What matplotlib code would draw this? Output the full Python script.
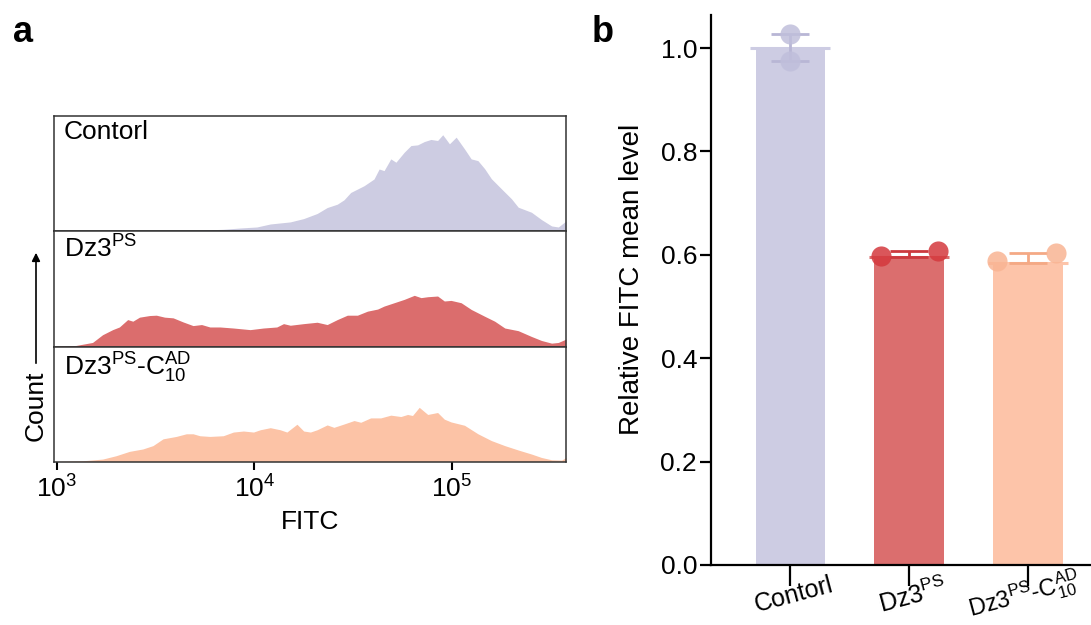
import numpy as np
import matplotlib
matplotlib.use('Agg')
import matplotlib.pyplot as plt
import matplotlib.transforms as mtransforms
from matplotlib.patches import FancyArrowPatch

plt.rcParams['font.family'] = ['Liberation Sans', 'DejaVu Sans']
plt.rcParams['mathtext.default'] = 'regular'
plt.rcParams['font.size'] = 19

# ---- panel a: flow histograms (x in log10 FITC, height in % of panel) ----
ctrl_x = [2.986, 3.639, 3.724, 3.843, 3.928, 4.013, 4.081, 4.182, 4.250, 4.318,
          4.369, 4.420, 4.454, 4.488, 4.556, 4.606, 4.632, 4.657, 4.691, 4.717,
          4.759, 4.793, 4.827, 4.861, 4.894, 4.928, 4.954, 4.988, 5.022, 5.064,
          5.098, 5.132, 5.166, 5.200, 5.251, 5.302, 5.336, 5.403, 5.454, 5.505,
          5.539, 5.578]
ctrl_h = [0, 0, 0.6, 1.5, 2.6, 3.5, 6.1, 7.9, 10.8, 15.2,
          20.4, 23.3, 27.1, 33.5, 39.4, 45.2, 53.9, 52.5, 62.7, 59.8,
          68.5, 74.3, 74.9, 77.8, 79.6, 78.7, 83.7, 75.8, 81.6, 71.4,
          62.7, 61.2, 54.2, 45.5, 36.7, 28.0, 20.7, 16.3, 9.9, 4.4,
          3.5, 8.7]

ps_x = [2.986, 3.097, 3.181, 3.232, 3.283, 3.317, 3.359, 3.385, 3.419, 3.470,
        3.504, 3.546, 3.589, 3.639, 3.690, 3.733, 3.775, 3.826, 3.894, 3.979,
        4.046, 4.114, 4.148, 4.182, 4.250, 4.318, 4.369, 4.420, 4.471, 4.522,
        4.573, 4.624, 4.657, 4.708, 4.759, 4.810, 4.844, 4.878, 4.928, 4.962,
        4.996, 5.047, 5.098, 5.166, 5.217, 5.268, 5.336, 5.403, 5.454, 5.505,
        5.539, 5.578]
ps_h = [0, 0.9, 3.5, 10.2, 14.6, 16.9, 23.3, 21.9, 25.4, 26.8,
        27.1, 25.4, 24.8, 21.3, 18.1, 19.0, 16.9, 16.9, 16.0, 14.6,
        16.0, 16.9, 19.8, 18.4, 19.8, 21.0, 19.0, 23.3, 27.1, 27.1,
        30.6, 32.4, 35.0, 37.9, 40.8, 44.3, 42.3, 43.1, 43.7, 39.4,
        39.9, 37.9, 32.1, 26.2, 21.9, 16.0, 13.7, 8.7, 5.2, 2.9,
        3.5, 6.4]

ad_x = [2.986, 3.130, 3.232, 3.300, 3.368, 3.436, 3.487, 3.538, 3.605, 3.656,
        3.690, 3.724, 3.775, 3.843, 3.894, 3.945, 3.996, 4.030, 4.081, 4.131,
        4.165, 4.216, 4.250, 4.284, 4.318, 4.369, 4.403, 4.454, 4.505, 4.539,
        4.589, 4.640, 4.691, 4.742, 4.776, 4.801, 4.835, 4.878, 4.928, 4.962,
        4.996, 5.064, 5.132, 5.200, 5.268, 5.336, 5.403, 5.454, 5.505, 5.556,
        5.578]
ad_h = [0, 0.6, 2.1, 5.0, 8.8, 10.9, 13.8, 19.7, 21.8, 24.1,
        24.1, 22.4, 21.8, 22.4, 25.6, 26.5, 25.6, 27.6, 29.4, 27.6,
        25.6, 32.4, 26.5, 25.6, 27.6, 31.8, 29.7, 32.6, 35.6, 34.1,
        37.9, 37.9, 40.3, 39.1, 40.9, 40.0, 47.1, 40.9, 42.6, 36.8,
        34.4, 31.5, 24.1, 18.2, 13.8, 10.0, 6.5, 3.5, 1.5, 1.2,
        3.5]

# ---- panel b: bars ----
groups = ['Contorl', r'Dz3$^{PS}$', r'Dz3$^{PS}$-C$_{10}^{AD}$']
means = [1.0, 0.596, 0.585]
err_low = [0.975, 0.596, 0.585]
err_high = [1.028, 0.608, 0.604]
points = [[1.028, 0.975], [0.597, 0.608], [0.589, 0.604]]
jitter = [[0.0, 0.0], [-0.24, 0.245], [-0.26, 0.235]]

hist_colors = ['#cdcce2', '#db6d6d', '#fcc3a6']
bar_colors = ['#cdcce3', '#db6e6e', '#fdc4a9']
dot_colors = ['#c0bfdb', '#d4383d', '#f9b493']
err_colors = ['#b8b6d5', '#cc3a3e', '#f4a985']

fig = plt.figure(figsize=(10.91, 6.25), dpi=100)

left, width = 54 / 1091, 512 / 1091
bottoms = [0.6304, 0.4456, 0.2616]
heights = [0.184, 0.1848, 0.184]
hist_data = [(ctrl_x, ctrl_h), (ps_x, ps_h), (ad_x, ad_h)]

for i, (hx, hh) in enumerate(hist_data):
    ax = fig.add_axes([left, bottoms[i], width, heights[i]])
    ax.fill_between(10 ** np.array(hx), hh, 0, color=hist_colors[i], lw=0)
    ax.set_xscale('log')
    ax.set_xlim(10 ** 2.986, 10 ** 5.578)
    ax.set_ylim(0, 100)
    ax.set_yticks([])
    for s in ax.spines.values():
        s.set_linewidth(1.1)
        s.set_color('#333333')
    ax.annotate(groups[i], xy=(0, 1), xycoords='axes fraction',
                xytext=(7, -3), textcoords='offset points',
                ha='left', va='top', fontsize=19)
    ax.minorticks_off()
    if i < 2:
        ax.set_xticks([])
    else:
        ax.set_xticks([1e3, 1e4, 1e5])
        ax.tick_params(axis='x', direction='out', length=6, width=1.5, pad=4,
                       labelsize=19)
        ax.set_xlabel('FITC', fontsize=19, labelpad=5)

fig.text(36 / 1091, 1 - 406 / 625, 'Count', rotation=90, ha='center',
         va='center', fontsize=19)
arrow = FancyArrowPatch((36 / 1091, 1 - 366 / 625), (36 / 1091, 1 - 250 / 625),
                        transform=fig.transFigure, arrowstyle='-|>',
                        lw=1.2, color='black', mutation_scale=12)
fig.add_artist(arrow)

# ---- bar panel ----
axb = fig.add_axes([711 / 1091, 1 - 565 / 625, 380 / 1091, 550 / 625])
xpos = np.arange(len(groups))
bw = 0.585
axb.bar(xpos, means, width=bw, color=bar_colors, lw=0, zorder=1)
for i in range(len(groups)):
    axb.hlines(means[i], xpos[i] - 0.335, xpos[i] + 0.335,
               color=bar_colors[i], lw=2.2, zorder=2)
    axb.errorbar(xpos[i], means[i],
                 yerr=[[means[i] - err_low[i]], [err_high[i] - means[i]]],
                 fmt='none', ecolor=err_colors[i], elinewidth=2,
                 capsize=14, capthick=2, zorder=3)
    axb.scatter(xpos[i] + np.array(jitter[i]), points[i], s=210,
                color=dot_colors[i], alpha=0.85, lw=0, zorder=4)

axb.set_xlim(-0.667, 2.53)
axb.set_ylim(0, 1.064)
axb.set_yticks([0, 0.2, 0.4, 0.6, 0.8, 1.0])
axb.set_yticklabels(['0.0', '0.2', '0.4', '0.6', '0.8', '1.0'])
axb.set_xticks(xpos)
axb.set_xticklabels(groups, rotation=15, ha='center', va='top',
                    rotation_mode='anchor')
axb.spines['top'].set_visible(False)
axb.spines['right'].set_visible(False)
axb.spines['left'].set_linewidth(1.6)
axb.spines['bottom'].set_linewidth(1.6)
axb.tick_params(axis='y', length=8, width=1.6, pad=2, labelsize=19)
axb.tick_params(axis='x', length=15, width=1.6, pad=-2, labelsize=18)
axb.set_ylabel('Relative FITC mean level', fontsize=20)
axb.yaxis.set_label_coords(-0.174, 0.52)

# nudge the long last label so it stays inside the figure
last = axb.get_xticklabels()[-1]
last.set_fontsize(17)
last.set_transform(last.get_transform() +
                   mtransforms.ScaledTranslation(-8 / 100, 3 / 100,
                                                 fig.dpi_scale_trans))

fig.text(13 / 1091, 1 - 32 / 625, 'a', fontsize=26, fontweight='bold',
         va='center', ha='left')
fig.text(592 / 1091, 1 - 32 / 625, 'b', fontsize=26, fontweight='bold',
         va='center', ha='left')

fig.savefig('out.png', dpi=100)
